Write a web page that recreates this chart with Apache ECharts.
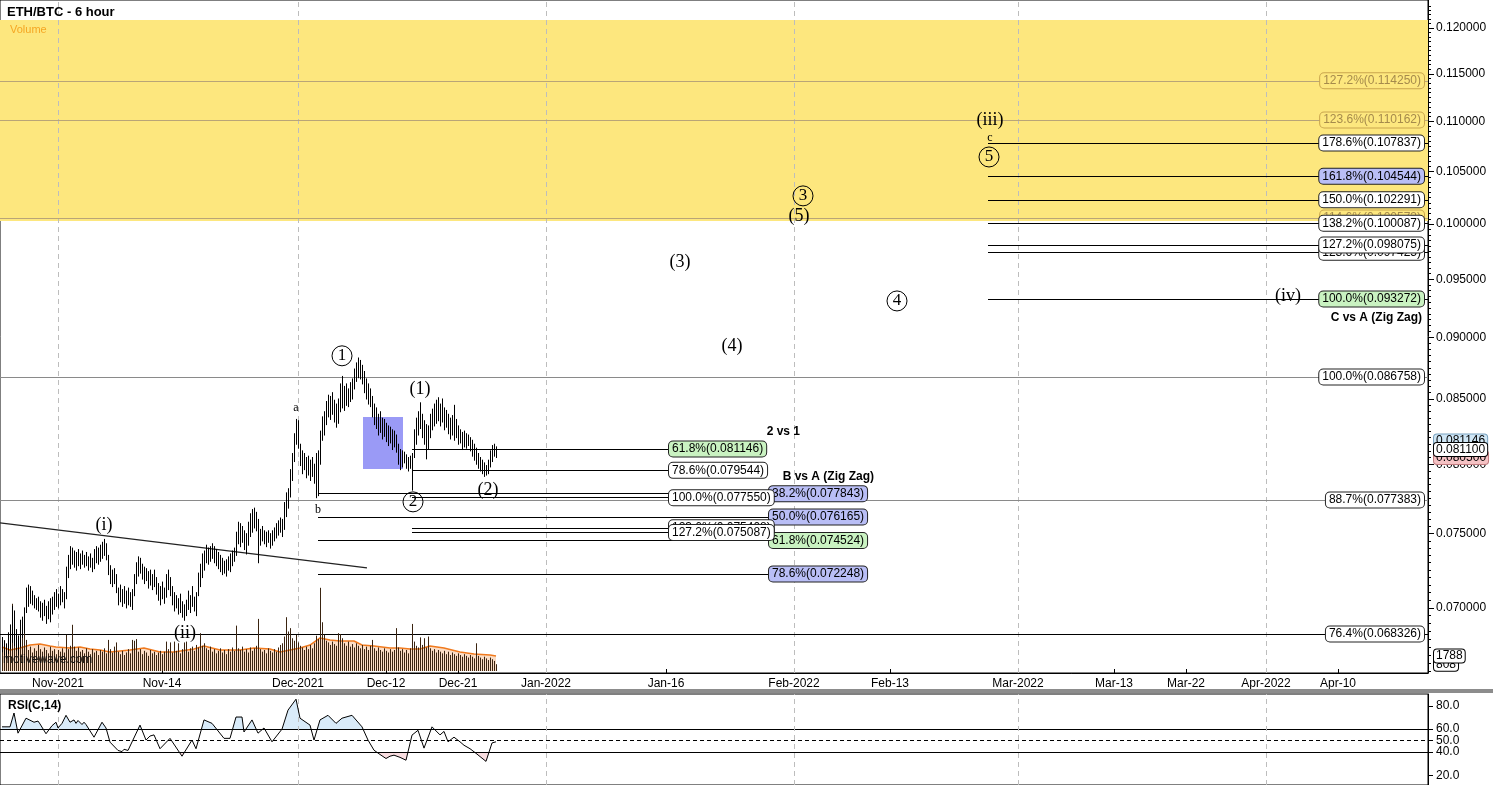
<!DOCTYPE html>
<html><head><meta charset="utf-8">
<script src="https://cdn.jsdelivr.net/npm/echarts@6/dist/echarts.min.js"></script>
<style>html,body{margin:0;padding:0;background:#fff}#c{width:1493px;height:785px}</style>
</head><body><div id="c"></div>
<script>
// ================= DATA =================
const barStart = '2021-10-25T00:00';           // first 6-hour bar
const barLow = [
.0672,.0670,.0668,.0671,.0674,.0678,.0676,.0673,.0670,.0675,
.0681,.0684,.0697,.0701,.0703,.0702,.0700,.0699,.0698,.0694,
.0692,.0695,.0690,.0693,.0691,.0696,.0699,.0701,.0700,.0702,
.0704,.0700,.0706,.0720,.0726,.0729,.0727,.0725,.0728,.0726,
.0729,.0727,.0728,.0725,.0727,.0724,.0726,.0730,.0729,.0731,
.0733,.0735,.0732,.0722,.0716,.0714,.0716,.0710,.0702,.0704,
.0701,.0703,.0700,.0702,.0701,.0699,.0708,.0716,.0721,.0723,
.0719,.0716,.0718,.0713,.0715,.0712,.0714,.0709,.0705,.0702,
.0706,.0703,.0707,.0712,.0708,.0702,.0698,.0700,.0696,.0697,
.0694,.0692,.0695,.0699,.0697,.0701,.0698,.0695,.0708,.0714,
.0720,.0725,.0730,.0729,.0731,.0733,.0730,.0728,.0726,.0724,
.0722,.0723,.0721,.0725,.0724,.0728,.0731,.0735,.0743,.0741,
.0744,.0739,.0736,.0742,.0748,.0751,.0754,.0752,.0730,.0742,
.0745,.0743,.0741,.0744,.0740,.0742,.0745,.0747,.0749,.0751,
.0748,.0753,.0762,.0768,.0776,.0788,.0802,.0815,.0812,.0799,
.0793,.0796,.0790,.0792,.0788,.0791,.0786,.07755,.0777,.0800,
.0818,.0822,.0830,.0836,.0834,.0838,.0832,.0828,.0831,.0840,
.0843,.0841,.0845,.0844,.0848,.0850,.0858,.0864,.0867,.0866,
.0862,.0855,.0850,.0846,.0844,.0836,.0830,.0827,.0822,.0824,
.0819,.0821,.0817,.0814,.0816,.0811,.0813,.0809,.0800,.0796,
.0798,.0801,.0797,.0795,.0797,.0781,.0805,.0815,.0822,.0827,
.0820,.0815,.0804,.0811,.0820,.0826,.0829,.0831,.0833,.0829,
.0832,.0826,.0828,.0823,.0819,.0822,.0818,.0820,.0815,.0816,
.0811,.0813,.0812,.0814,.0810,.0806,.0803,.0800,.0797,.0795,
.0793,.0791,.0792,.0793,.0798,.0802,.0806,.0805];
const barHigh = [
.0681,.0679,.0677,.0684,.0689,.0701,.0698,.0686,.0682,.0692,
.0694,.0700,.0713,.0715,.0714,.0711,.0708,.0706,.0707,.0704,
.0703,.0705,.0701,.0704,.0706,.0707,.0710,.0712,.0709,.0714,
.0712,.0710,.0727,.0735,.0741,.0740,.0738,.0737,.0739,.0736,
.0738,.0735,.0737,.0734,.0736,.0733,.0739,.0741,.0740,.0742,
.0744,.0746,.0743,.0735,.0728,.0725,.0726,.0722,.0713,.0715,
.0712,.0714,.0711,.0713,.0710,.0712,.0722,.0730,.0734,.0733,
.0729,.0727,.0726,.0724,.0725,.0722,.0725,.0720,.0716,.0714,
.0717,.0713,.0722,.0725,.0720,.0714,.0710,.0708,.0706,.0709,
.0704,.0702,.0705,.0711,.0708,.0714,.0707,.0710,.0723,.0729,
.0736,.0738,.0742,.0740,.0741,.0743,.0741,.0739,.0737,.0735,
.0733,.0731,.0732,.0734,.0736,.0738,.0740,.0751,.0758,.0757,
.0755,.0752,.0750,.0758,.0764,.0767,.0768,.0765,.0760,.0753,
.0755,.0752,.0751,.0752,.0750,.0752,.0754,.0757,.0759,.0761,
.0760,.0772,.0779,.0782,.0796,.0808,.0823,.0834,.0833,.0815,
.0810,.0808,.0805,.0806,.0803,.0805,.0800,.0808,.0810,.0825,
.0836,.0840,.0848,.0853,.0852,.0855,.0849,.0846,.0850,.0862,
.0868,.0860,.0862,.0858,.0863,.0866,.0874,.0879,.0883,.0881,
.0877,.0872,.0866,.0862,.0858,.0852,.0846,.0843,.0838,.0840,
.0835,.0834,.0831,.0829,.0828,.0826,.0825,.0822,.0815,.0811,
.0810,.0809,.0807,.0805,.0806,.0808,.0826,.0835,.0840,.0847,
.0838,.0833,.0830,.0829,.0838,.0842,.0846,.0849,.0851,.0846,
.0850,.0843,.0841,.0838,.0835,.0837,.0845,.0834,.0829,.0826,
.0824,.0825,.0823,.0822,.0820,.0818,.0815,.0812,.0808,.0805,
.0803,.0801,.0799,.0803,.0810,.0814,.0815,.0813];
const volume = [
2600,3100,2400,2900,4000,8000,7000,3300,2800,3000,
4500,4600,3700,2500,2900,2200,2700,2400,3100,2600,
2300,2800,2500,2100,2900,2400,2600,2000,2500,2300,
2700,2200,4300,2600,3000,5500,2900,2400,2800,2300,
2500,2100,2700,2300,2000,2600,2200,2400,1900,2500,
2300,2700,2100,3700,2600,2200,2900,3400,2300,2000,
2400,1900,2200,2600,2100,3700,3600,3800,2300,2600,
2000,2400,2200,1800,2500,2100,2300,1900,2200,2400,
2000,2300,3500,2600,3400,2200,3500,2400,3300,2100,
2600,3400,3500,2300,2700,2900,2400,3100,2800,4500,
3000,3300,2700,2500,2900,2300,2600,2100,2400,2700,
2200,2500,2000,2600,2300,2800,2400,5400,2700,2500,
2900,2300,2600,2200,2800,2400,2700,3000,6200,2600,
2300,2500,2100,2700,2400,2200,2600,2300,2800,3100,
3300,4100,6400,4700,5100,3900,3600,4300,3400,3000,
2800,2500,2900,2600,3100,2700,3300,4200,3800,9900,
5800,4300,3600,3400,3100,3500,3200,3000,4500,4400,
3900,3300,3000,3500,2900,3200,2800,3300,3000,2700,
3100,2600,2900,2500,3000,3700,2700,2400,2800,2500,
2300,2700,2400,2200,2600,2300,2500,5100,2800,2400,
2600,2200,2500,2100,2700,5600,3500,3000,2800,4000,
3100,3900,2800,4100,2700,2400,2600,2200,2500,2300,
2100,2400,2000,2300,1900,2200,2000,1800,2100,1900,
1700,2000,1800,1600,1900,1700,1500,3300,1800,1600,
1400,1700,1500,1300,1600,1400,1200,808];
const volMABar   = [0,4,9,14,19,24,27,34,39,44,49,54,64,71,79,86,96,101,109,119,126,134,139,144,149,154,159,164,169,176,180,186,194,199,204,209,214,221,229,236,244,247];
const volMAValue = [2856,2500,2740,3090,3210,2975,2860,2740,2860,2620,2500,2260,2500,2740,2260,2260,2620,2975,2500,2500,2740,2620,2260,2500,2740,3090,3930,3690,3570,3570,3090,2975,2740,2740,2620,2620,2975,2740,2260,2020,1900,1788];
const rsiBar   = [0,4,6,8,12,16,17,18,19,20,22,25,26,27,28,29,30,32,34,36,37,38,39,40,41,42,46,50,52,54,58,59,60,61,62,63,64,69,72,74,75,76,77,79,84,90,95,97,101,105,111,114,117,120,121,125,128,131,135,140,143,147,149,154,156,159,163,167,170,175,180,183,186,189,192,194,196,199,202,205,208,211,215,219,221,223,226,229,231,234,237,242,245,247];
const rsiValue = [62,62,74,56.5,69.5,66,65,67,64.5,64,56,63,64,66,61,62,65,72,66,68,65,67.5,67,64,66,64,53,66,61,48.7,41.5,43,40.5,42.5,43,41.5,41,63.5,50.5,54,52.5,55,54,43,52,36.5,50.5,43,68,65,52,52,70.5,70.5,57.5,68,56.5,61,49,60,76.5,86,69.5,63.5,50.5,68,72,65,69.5,72,62,50.5,41.7,38,34.5,36.5,37.4,35.5,33,54.8,59,43.5,62,55,58,49,53,49,46,43,39,32,48,49];

const timeTickDates  = ['2021-11-01','2021-11-14','2021-12-01','2021-12-12','2021-12-21','2022-01-01','2022-01-16','2022-02-01','2022-02-13','2022-03-01','2022-03-13','2022-03-22','2022-04-01','2022-04-10'];
const timeTickLabels = ['Nov-2021','Nov-14','Dec-2021','Dec-12','Dec-21','Jan-2022','Jan-16','Feb-2022','Feb-13','Mar-2022','Mar-13','Mar-22','Apr-2022','Apr-10'];
const monthStarts = ['2021-11-01','2021-12-01','2022-01-01','2022-02-01','2022-03-01','2022-04-01'];
const priceTicks = [0.07,0.075,0.08,0.085,0.09,0.095,0.10,0.105,0.11,0.115,0.12];
const rsiTicks = [20,40,50,60,80];

// Fibonacci levels
const fullPct   = ['127.2%','123.6%','114.6%','100.0%','88.7%','76.4%'];
const fullValue = [0.114250,0.110162,0.100573,0.086758,0.077383,0.068326];
const cvaPct    = ['123.6%','178.6%','161.8%','150.0%','138.2%','127.2%','100.0%'];
const cvaValue  = [0.097425,0.107837,0.104544,0.102291,0.100087,0.098075,0.093272];
const bvaPct    = ['38.2%','50.0%','61.8%','78.6%'];
const bvaValue  = [0.077843,0.076165,0.074524,0.072248];
const t21Pct    = ['61.8%','78.6%','100.0%','123.6%','127.2%'];
const t21Value  = [0.081146,0.079544,0.077550,0.075408,0.075087];

// Elliott wave labels
const waveText  = ['(i)','(ii)','(1)','(2)','(3)','(4)','(5)','(iii)','(iv)'];
const waveTime  = ['2021-11-06T18:00','2021-11-16T21:00','2021-12-16T06:00','2021-12-24T18:00','2022-01-17T18:00','2022-01-24T06:00','2022-02-01T15:00','2022-02-25T12:00','2022-04-03T18:00'];
const wavePrice = [0.07561,0.06839,0.08580,0.07811,0.09655,0.08930,0.10076,0.11017,0.09354];
const smallText  = ['a','b','c'];
const smallTime  = ['2021-11-30T18:00','2021-12-03T12:00','2022-02-25T12:00'];
const smallPrice = [0.08429,0.07667,0.10834];
const circText  = ['1','2','3','4','5'];
const circTime  = ['2021-12-06T12:00','2021-12-15T09:00','2022-02-02T03:00','2022-02-13T21:00','2022-02-25T09:00'];
const circPrice = [0.08848,0.07725,0.10266,0.09311,0.10644];

// ================= HELPERS =================
const T = s => Date.parse((s.length === 10 ? s + 'T00:00' : s) + ':00Z');
const L = Math.log;
const H6 = 6 * 3600 * 1000;
const barTime = i => T(barStart) + i * H6;
const xMin = T('2021-10-24T18:00'), xMax = T('2022-04-21T06:00');
const yMin = L(0.06589), yMax = L(0.12316);
const FONT = 'Liberation Sans, Arial, sans-serif';
const SERIF = 'Liberation Serif, Times New Roman, serif';

const box = {
  white: {backgroundColor:'#ffffff', borderColor:'#222', color:'#000'},
  green: {backgroundColor:'#c9f2c1', borderColor:'#222', color:'#000'},
  blue:  {backgroundColor:'#b9bef6', borderColor:'#222', color:'#000'},
  gold:  {backgroundColor:'#fde77e', borderColor:'#c9a54e', color:'#a58a4c'}
};
function fibLabel(t, v, pct, style, pos) {
  return {value:[t, L(v)], label:Object.assign({show:true, position:pos, distance:pos==='left'?4:1,
    formatter: pct + '(' + v.toFixed(6) + ')', fontFamily:FONT, fontSize:12, opacity:1,
    padding:[2,3,1,3], borderWidth:1, borderRadius:4}, box[style])};
}
function hLine(t1, t2, v, color) {
  return [{coord:[t1, L(v)], lineStyle:{color:color, width:1, type:'solid'}}, {coord:[t2, L(v)]}];
}

// styles for the level sets (kept apart from the values)
const fullStyle = ['gold','gold','gold','white','white','white'];
const fullLine  = ['#b9a577','#b9a577','#b9a577','#8a8a8a','#8a8a8a','#000'];
const cvaStyle  = ['white','white','blue','white','white','white','green'];
const bvaStyle  = ['blue','blue','green','blue'];
const t21Style  = ['green','white','white','white','white'];

const t21Start = T('2021-12-15T06:00'), t21End = T('2022-01-16T06:00');
const bvaStart = T('2021-12-03T12:00'), bvaEnd = T('2022-01-28T18:00');
const cvaStart = T('2022-02-25T06:00');

const fibLines = [];
fullValue.forEach((v,i)=>fibLines.push(hLine(xMin, xMax, v, fullLine[i])));
cvaValue.forEach(v=>fibLines.push(hLine(cvaStart, xMax, v, '#000')));
bvaValue.forEach(v=>fibLines.push(hLine(bvaStart, bvaEnd, v, '#000')));
t21Value.forEach(v=>fibLines.push(hLine(t21Start, t21End, v, '#000')));
// trend line
fibLines.push([{coord:[xMin, L(0.07576)], lineStyle:{color:'#222', width:1.3, type:'solid'}}, {coord:[T('2021-12-09T15:00'), L(0.07265)]}]);

const monthLineData = monthStarts.map(d=>({xAxis:T(d)}));
const lastClose = 0.081100;
const solid = {opacity:1};

const option = {
  animation:false,
  backgroundColor:'#fff',
  textStyle:{fontFamily:FONT},
  grid:[
    {left:0, right:65, top:0, height:673, show:true, borderColor:'#000', borderWidth:1, backgroundColor:'transparent'},
    {left:0, right:65, top:571, height:100},
    {left:0, right:65, top:694, height:91, show:true, borderColor:'#000', borderWidth:1, backgroundColor:'transparent'},
    {left:0, right:65, top:694, height:91*(90.5-60)/79},
    {left:0, right:65, top:694+91*(90.5-40)/79, height:91*(40-11.5)/79}
  ],
  xAxis:[0,1,2,3,4].map(g=>({
    type:'value', gridIndex:g, min:xMin, max:xMax, scale:true,
    splitLine:{show:false},
    axisLine:{show:g===0, onZero:false, lineStyle:{color:'#000'}},
    axisTick:{show:g===0, inside:true, length:4, customValues:timeTickDates.map(T), lineStyle:{color:'#000'}},
    axisLabel:{show:g===0, customValues:timeTickDates.map(T), color:'#000', fontSize:12, margin:5,
      fontFamily:FONT, formatter:v=>timeTickLabels[timeTickDates.map(T).indexOf(v)] || ''}
  })),
  yAxis:[
    {type:'value', gridIndex:0, position:'right', min:yMin, max:yMax, scale:true,
      splitLine:{show:false},
      axisLine:{show:true, lineStyle:{color:'#000'}},
      axisTick:{show:true, length:6, customValues:priceTicks.map(L), lineStyle:{color:'#000'}},
      axisLabel:{show:true, customValues:priceTicks.map(L), formatter:v=>Math.exp(v).toFixed(6),
        color:'#000', fontSize:12, margin:8, fontFamily:FONT}},
    {type:'value', gridIndex:0, position:'right', min:yMin, max:yMax, scale:true,
      splitLine:{show:false}, axisLine:{show:false},
      axisLabel:{show:false, customValues:[]},
      axisTick:{show:true, length:3, customValues:Array.from({length:114},(_,k)=>L(0.066+k*0.0005)).filter(v=>v<yMax), lineStyle:{color:'#000'}}},
    {type:'value', gridIndex:1, min:0, max:11900, show:false},
    {type:'value', gridIndex:2, position:'right', min:11.5, max:90.5,
      splitLine:{show:false},
      axisLine:{show:true, lineStyle:{color:'#000'}},
      axisTick:{show:true, length:5, customValues:rsiTicks, lineStyle:{color:'#000'}},
      axisLabel:{show:true, customValues:rsiTicks, formatter:v=>v.toFixed(1), color:'#000', fontSize:12, margin:8, fontFamily:FONT}},
    {type:'value', gridIndex:3, min:60, max:90.5, show:false},
    {type:'value', gridIndex:4, min:11.5, max:40, show:false}
  ],
  series:[
    // background zones + month lines
    {type:'line', xAxisIndex:0, yAxisIndex:0, data:[[xMin, L(0.12)]], symbol:'none', silent:true, z:1,
      lineStyle:{opacity:0},
      markArea:{silent:true, z:1, data:[
        [{xAxis:xMin, yAxis:L(0.1003), itemStyle:{color:'#fde77e'}}, {xAxis:xMax, yAxis:L(0.1209)}],
        [{xAxis:T('2021-12-09T03:00'), yAxis:L(0.07964), itemStyle:{color:'#9a9af6'}}, {xAxis:T('2021-12-14T03:00'), yAxis:L(0.08359)}]
      ]},
      markLine:{silent:true, symbol:['none','none'], label:{show:false}, z:2,
        lineStyle:{color:'#bdbdbd', type:[5,4], width:1}, data:monthLineData}
    },
    {type:'line', xAxisIndex:0, yAxisIndex:0, data:[[xMin, L(0.12)]], symbol:'none', silent:true, z:3,
      lineStyle:{opacity:0},
      markLine:{silent:true, symbol:['none','none'], label:{show:false}, z:3, data:fibLines}
    },
    // price bars
    {type:'custom', name:'ETH/BTC', xAxisIndex:0, yAxisIndex:0, z:6, clip:true,
      data: barLow.map((lo,i)=>[barTime(i), L(lo), L(barHigh[i])]),
      encode:{x:0, y:[1,2]},
      renderItem:(p,api)=>{
        const a = api.coord([api.value(0), api.value(1)]);
        const b = api.coord([api.value(0), api.value(2)]);
        const x = Math.round(a[0]) + 0.5;
        return {type:'line', shape:{x1:x, y1:a[1]+0.5, x2:x, y2:b[1]-0.5}, style:{stroke:'#000', lineWidth:1}};
      }},
    // volume moving average (area under)
    {type:'line', xAxisIndex:1, yAxisIndex:2, z:4, symbol:'none', silent:true,
      data: volMABar.map((b,i)=>[barTime(b), volMAValue[i]]),
      lineStyle:{color:'#f07a1e', width:1.5},
      areaStyle:{color:'#f8cfae'}},
    // volume bars
    {type:'custom', name:'Volume', xAxisIndex:1, yAxisIndex:2, z:5,
      data: volume.map((v,i)=>[barTime(i), v]),
      encode:{x:0, y:1},
      renderItem:(p,api)=>{
        const a = api.coord([api.value(0), 0]);
        const b = api.coord([api.value(0), api.value(1)]);
        const x = Math.round(a[0]) + 0.5;
        return {type:'line', shape:{x1:x, y1:a[1], x2:x, y2:b[1]}, style:{stroke:'#3a2411', lineWidth:1}};
      }},
    // BvsA labels (below 2vs1 labels)
    {type:'scatter', xAxisIndex:0, yAxisIndex:0, symbolSize:0, z:8, silent:true, itemStyle:solid,
      data: bvaValue.map((v,i)=>fibLabel(bvaEnd, v, bvaPct[i], bvaStyle[i], 'right'))},
    {type:'scatter', xAxisIndex:0, yAxisIndex:0, symbolSize:0, z:9, silent:true, itemStyle:solid,
      data: t21Value.map((v,i)=>fibLabel(t21End, v, t21Pct[i], t21Style[i], 'right'))},
    {type:'scatter', xAxisIndex:0, yAxisIndex:0, symbolSize:0, z:9, silent:true, itemStyle:solid,
      data: fullValue.map((v,i)=>fibLabel(xMax, v, fullPct[i], fullStyle[i], 'left'))
              .concat(cvaValue.map((v,i)=>fibLabel(xMax, v, cvaPct[i], cvaStyle[i], 'left')))},
    // headings of the level sets
    {type:'scatter', xAxisIndex:0, yAxisIndex:0, symbolSize:0, z:10, silent:true, itemStyle:solid,
      label:{show:true, position:'left', distance:0, fontFamily:FONT, fontWeight:'bold', fontSize:12, color:'#000', formatter:p=>p.name},
      data:[
        {name:'2 vs 1', value:[T('2022-02-01T18:00'), L(0.08244)]},
        {name:'B vs A (Zig Zag)', value:[T('2022-02-11T00:00'), L(0.07906)]},
        {name:'C vs A (Zig Zag)', value:[xMax, L(0.09166)], label:{distance:6}}
      ]},
    // wave labels
    {type:'scatter', xAxisIndex:0, yAxisIndex:0, symbolSize:0, z:11, silent:true, itemStyle:solid,
      label:{show:true, position:'inside', fontFamily:SERIF, fontSize:18, color:'#000', formatter:p=>p.name},
      data: waveText.map((s,i)=>({name:s, value:[T(waveTime[i]), L(wavePrice[i])]}))
        .concat(smallText.map((s,i)=>({name:s, value:[T(smallTime[i]), L(smallPrice[i])], label:{fontSize:12}})))},
    {type:'scatter', xAxisIndex:0, yAxisIndex:0, symbol:'circle', symbolSize:20, z:11, silent:true,
      itemStyle:{color:'rgba(0,0,0,0)', borderColor:'#000', borderWidth:1, opacity:1},
      label:{show:true, position:'inside', fontFamily:SERIF, fontSize:17, color:'#000', formatter:p=>p.name},
      data: circText.map((s,i)=>({name:s, value:[T(circTime[i]), L(circPrice[i])]}))},
    // price tags on the axis
    {type:'scatter', xAxisIndex:0, yAxisIndex:0, symbolSize:0, z:12, silent:true, itemStyle:solid,
      label:{show:true, position:'right', distance:6, fontFamily:FONT, fontSize:12, color:'#000',
        padding:[1,2,0,2], borderWidth:1, borderRadius:3, formatter:p=>p.name},
      data:[
        {name:'0.081146', value:[xMax, L(0.08175)], label:{backgroundColor:'#cfe6f5', borderColor:'#7aa3c0'}},
        {name:'0.080500', value:[xMax, L(0.0805)], label:{backgroundColor:'#f5c2c4', borderColor:'#c07a7e'}},
        {name:lastClose.toFixed(6), value:[xMax, L(lastClose)], label:{backgroundColor:'#fff', borderColor:'#000'}}
      ]},
    {type:'scatter', xAxisIndex:1, yAxisIndex:2, symbolSize:0, z:12, silent:true, itemStyle:solid,
      label:{show:true, position:'right', distance:6, fontFamily:FONT, fontSize:12, color:'#000',
        padding:[1,2,0,2], borderWidth:1, borderRadius:3, backgroundColor:'#fff', borderColor:'#000', formatter:p=>p.name},
      data:[
        {name:'808', value:[xMax, volume[volume.length-1]]},
        {name:'1788', value:[xMax, volMAValue[volMAValue.length-1]]}
      ]},
    // RSI fills
    {type:'line', xAxisIndex:3, yAxisIndex:4, z:2, symbol:'none', silent:true,
      data: rsiBar.map((b,i)=>[barTime(b), rsiValue[i]]),
      lineStyle:{width:0}, areaStyle:{origin:'start', color:'#d9ebf9', opacity:1}},
    {type:'line', xAxisIndex:4, yAxisIndex:5, z:2, symbol:'none', silent:true,
      data: rsiBar.map((b,i)=>[barTime(b), rsiValue[i]]),
      lineStyle:{width:0}, areaStyle:{origin:'end', color:'#f9dde0', opacity:1}},
    // RSI line + levels
    {type:'line', name:'RSI', xAxisIndex:2, yAxisIndex:3, z:5, symbol:'none', silent:true,
      data: rsiBar.map((b,i)=>[barTime(b), rsiValue[i]]),
      lineStyle:{color:'#000', width:1},
      markLine:{silent:true, symbol:['none','none'], label:{show:false},
        data:[
          {yAxis:60, lineStyle:{color:'#000', width:1, type:'solid'}},
          {yAxis:40, lineStyle:{color:'#000', width:1, type:'solid'}},
          {yAxis:50, lineStyle:{color:'#000', width:1, type:[4,3]}}
        ].concat(monthLineData.map(d=>Object.assign({lineStyle:{color:'#bdbdbd', width:1, type:[5,4]}}, d)))}
    }
  ],
  graphic:[
    {type:'text', left:7, top:6, z:20, style:{text:'ETH/BTC - 6 hour', font:'bold 13px Liberation Sans, Arial', fill:'#000'}},
    {type:'text', left:10, top:24, z:20, style:{text:'Volume', font:'11px Liberation Sans, Arial', fill:'#f5a623'}},
    {type:'text', left:3, top:654, z:20, style:{text:'motivewave.com', font:'12px Liberation Sans, Arial', fill:'#111'}},
    {type:'rect', left:0, top:689, z:20, shape:{width:1493, height:4}, style:{fill:'#8c8c8c'}},
    {type:'text', left:8, top:700, z:20, style:{text:'RSI(C,14)', font:'bold 12px Liberation Sans, Arial', fill:'#000'}}
  ]
};
const chart = echarts.init(document.getElementById('c'));
chart.setOption(option);
</script>
</body></html>
